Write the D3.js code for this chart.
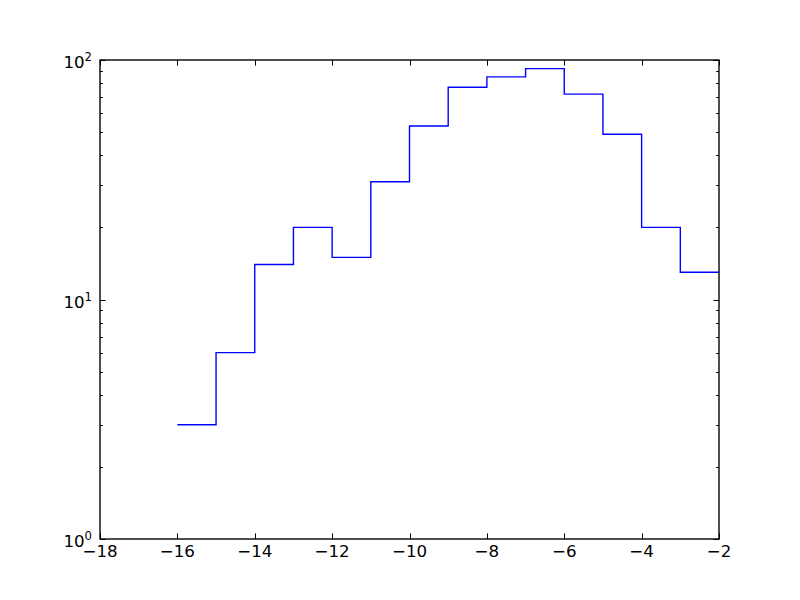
<!DOCTYPE html>
<html><head><meta charset="utf-8">
<script src="https://cdn.jsdelivr.net/npm/d3@7"></script>
<style>body{margin:0;background:#fff}svg{display:block}</style>
</head><body>
<svg id="c" width="800" height="600"></svg>
<script>
const binEdges = [-16,-15,-14,-13,-12,-11,-10,-9,-8,-7,-6,-5,-4,-3,-2];
const counts   = [3,6,14,20,15,31,53,77,85,92,72,49,20,13];
const xTicks = [-18,-16,-14,-12,-10,-8,-6,-4,-2];
const yTicks = [1,10,100];
const yExponents = ["0","1","2"];

const svg = d3.select("#c");
const L=100, R=719, T=60, B=539;
const x = d3.scaleLinear().domain([-18,-2]).range([L,R]);
const y = d3.scaleLog().domain([1,100]).range([B,T]);
const font = "DejaVu Sans, sans-serif";
const fs = 16.67;

// step line
const pts = [];
counts.forEach((c,i)=>{ pts.push([binEdges[i],c]); pts.push([binEdges[i+1],c]); });
svg.append("path")
  .attr("d", d3.line().x(d=>x(d[0])).y(d=>y(d[1]))(pts))
  .attr("fill","none").attr("stroke","#0000ff").attr("stroke-width",1.39);

// frame
svg.append("rect").attr("x",L).attr("y",T).attr("width",R-L).attr("height",B-T)
  .attr("fill","none").attr("stroke","#000").attr("stroke-width",1.39);

const tk = svg.append("g").attr("stroke","#000").attr("stroke-width",1);
const maj=5.6, mnr=2.8;
xTicks.forEach(v=>{
  const px = Math.round(x(v))+0.5;
  tk.append("line").attr("x1",px).attr("x2",px).attr("y1",B).attr("y2",B-maj);
  tk.append("line").attr("x1",px).attr("x2",px).attr("y1",T).attr("y2",T+maj);
  svg.append("text").attr("x",x(v)).attr("y",B+18).attr("text-anchor","middle")
    .attr("font-family",font).attr("font-size",fs).text(v<0?"\u2212"+Math.abs(v):String(v));
});
// y minor ticks
const minors=[];
[1,10].forEach(d=>{ for(let k=2;k<=9;k++) minors.push(d*k); });
minors.forEach(v=>{
  const py = Math.round(y(v))+0.5;
  tk.append("line").attr("x1",L).attr("x2",L+mnr).attr("y1",py).attr("y2",py);
  tk.append("line").attr("x1",R).attr("x2",R-mnr).attr("y1",py).attr("y2",py);
});
yTicks.forEach((v,i)=>{
  const py = Math.round(y(v))+0.5;
  tk.append("line").attr("x1",L).attr("x2",L+maj).attr("y1",py).attr("y2",py);
  tk.append("line").attr("x1",R).attr("x2",R-maj).attr("y1",py).attr("y2",py);
  const t = svg.append("text").attr("x",92).attr("y",y(v)+8).attr("text-anchor","end")
    .attr("font-family",font).attr("font-size",fs);
  t.append("tspan").text("10");
  t.append("tspan").attr("dy",-7).attr("font-size",fs*0.7).text(yExponents[i]);
});
</script>
</body></html>
